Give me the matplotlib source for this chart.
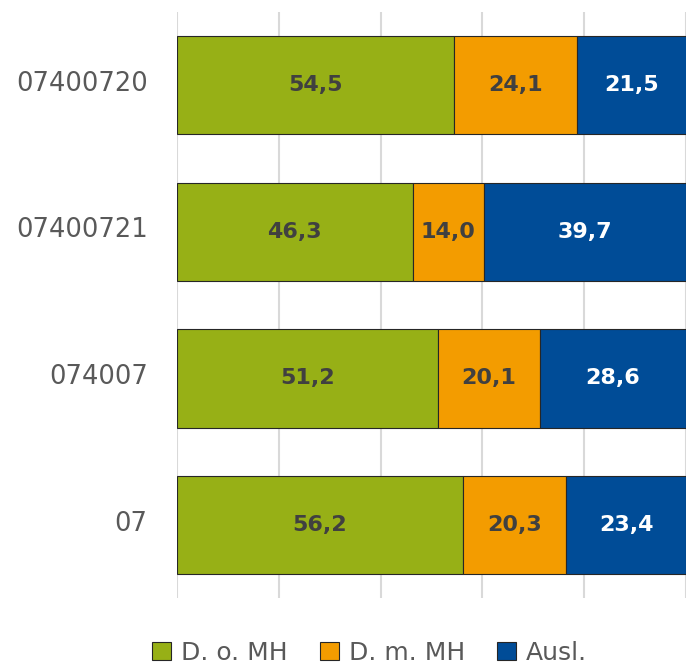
import numpy as np
from matplotlib import pyplot as plt

# Daten (Anteile in %)
regions = ["07400720", "07400721", "074007", "07"]
d_o_mh = [54.5, 46.3, 51.2, 56.2]
d_m_mh = [24.1, 14.0, 20.1, 20.3]
ausl = [21.5, 39.7, 28.6, 23.4]
series_names = ["D. o. MH", "D. m. MH", "Ausl."]

colors = ["#97b016", "#f39c00", "#004c97"]
text_colors = ["#404040", "#404040", "#ffffff"]

fig = plt.figure(figsize=(6.91, 6.64), dpi=100)
ax = fig.add_axes([0.256, 0.099, 0.737, 0.883])

y = np.arange(len(regions))
left = np.zeros(len(regions))
for vals, name, col, tcol in zip([d_o_mh, d_m_mh, ausl], series_names, colors, text_colors):
    vals = np.array(vals)
    bars = ax.barh(y, vals, left=left, height=0.67, color=col, edgecolor="#262626",
                   linewidth=0.8, label=name, zorder=3)
    for b, v in zip(bars, vals):
        ax.text(b.get_x() + b.get_width() / 2, b.get_y() + b.get_height() / 2,
                f"{v:.1f}".replace(".", ","), ha="center", va="center",
                color=tcol, fontsize=16, fontweight="bold", zorder=4)
    left += vals

ax.set_xlim(0, 100)
ax.set_ylim(len(regions) - 0.5, -0.5)
ax.set_yticks(y - 0.03)
ax.set_yticklabels(regions, fontsize=18.5, color="#595959")
ax.set_xticks(np.arange(0, 101, 20))
ax.set_xticklabels([])
ax.tick_params(axis="y", length=0, pad=21)
ax.tick_params(axis="x", length=0)
ax.grid(axis="x", color="#d9d9d9", linewidth=1.5, zorder=0)
for s in ax.spines.values():
    s.set_visible(False)

leg = fig.legend(loc="lower center", bbox_to_anchor=(0.535, -0.035), ncol=3, frameon=False,
                 fontsize=18, handlelength=0.75, handleheight=0.75, handletextpad=0.4,
                 columnspacing=1.3)
for t in leg.get_texts():
    t.set_color("#595959")

fig.savefig("out.png", dpi=100)
